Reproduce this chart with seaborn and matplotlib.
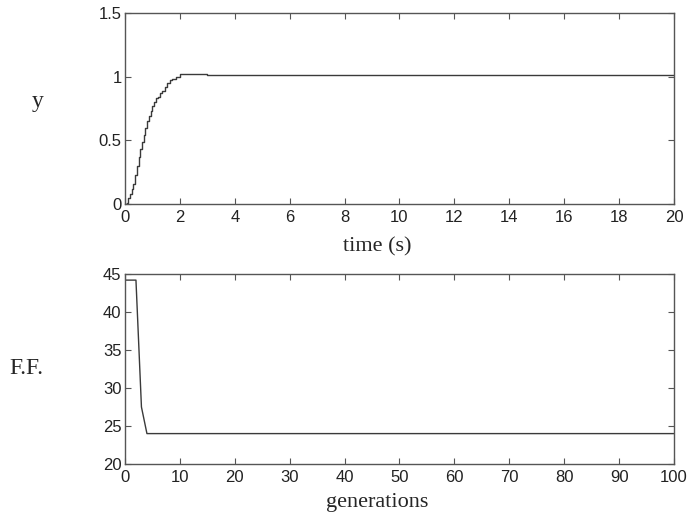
import numpy as np
import pandas as pd
import matplotlib
matplotlib.use("Agg")
import matplotlib.pyplot as plt
import seaborn as sns

# Top plot: step response
time_s = [0.0, 0.06, 0.12, 0.19, 0.25, 0.31, 0.37, 0.43, 0.50, 0.56, 0.62, 0.68, 0.74,
          0.80, 0.87, 0.93, 0.99, 1.05, 1.12, 1.2, 1.28, 1.36, 1.45, 1.54, 1.63, 1.73,
          1.86, 2.0, 3.0, 6.0, 10.0, 14.0, 20.0]
y_resp = [0.0, 0.01, 0.05, 0.08, 0.12, 0.16, 0.23, 0.30, 0.37, 0.43, 0.49, 0.54, 0.60,
          0.65, 0.69, 0.73, 0.77, 0.80, 0.83, 0.84, 0.87, 0.89, 0.92, 0.95, 0.97, 0.98,
          1.00, 1.02, 1.015, 1.01, 1.01, 1.01, 1.01]

# Bottom plot: fitness function vs generations
generations = [0, 1, 2, 3, 4, 5, 10, 20, 30, 40, 50, 60, 70, 80, 90, 100]
ff_values = [44.2, 44.2, 44.2, 27.5, 24.0, 24.0, 24.0, 24.0, 24.0, 24.0, 24.0, 24.0,
             24.0, 24.0, 24.0, 24.0]

sns.set_style("white")
plt.rcParams['font.family'] = ['Liberation Sans', 'DejaVu Sans']

fig = plt.figure(figsize=(6.92, 5.19), dpi=100)
ax1 = fig.add_axes([0.1806, 0.607, 0.7934, 0.368])
ax2 = fig.add_axes([0.1806, 0.106, 0.7934, 0.366])

line_color = "#3a3a3a"
df1 = pd.DataFrame({"t": time_s, "y": y_resp})
sns.lineplot(data=df1, x="t", y="y", ax=ax1, color=line_color, linewidth=1.0,
             drawstyle="steps-post")
df2 = pd.DataFrame({"g": generations, "f": ff_values})
sns.lineplot(data=df2, x="g", y="f", ax=ax2, color=line_color, linewidth=1.0)

serif = ['Liberation Serif', 'DejaVu Serif']

ax1.set_xlim(0, 20)
ax1.set_ylim(0, 1.5)
ax1.set_xticks(range(0, 21, 2))
ax1.set_yticks([0, 0.5, 1, 1.5])
ax1.set_yticklabels(["0", "0.5", "1", "1.5"])
ax1.set_xlabel("time (s)", fontsize=16, family=serif, va="center")
ax1.xaxis.set_label_coords(0.46, -0.225)
ax1.set_ylabel("")

ax2.set_xlim(0, 100)
ax2.set_ylim(20, 45)
ax2.set_xticks(range(0, 101, 10))
ax2.set_yticks(range(20, 46, 5))
ax2.set_xlabel("generations", fontsize=16, family=serif, va="center")
ax2.xaxis.set_label_coords(0.46, -0.205)
ax2.set_ylabel("")

for ax in (ax1, ax2):
    for sp in ax.spines.values():
        sp.set_visible(True)
        sp.set_color("#555555")
        sp.set_linewidth(1.0)
    ax.tick_params(direction="in", length=4, width=0.8, color="#555555",
                   labelsize=12, labelcolor="#222222", top=True, right=True,
                   bottom=True, left=True)
    ax.tick_params(axis="x", pad=4)
    ax.tick_params(axis="y", pad=2.5)

fig.text(38 / 692, 1 - 101 / 519, "y", fontsize=17, family=serif, ha="center", va="center")
fig.text(26 / 692, 1 - 369 / 519, "F.F.", fontsize=17, family=serif, ha="center", va="center")

fig.savefig("out.png", dpi=100, facecolor="white")
